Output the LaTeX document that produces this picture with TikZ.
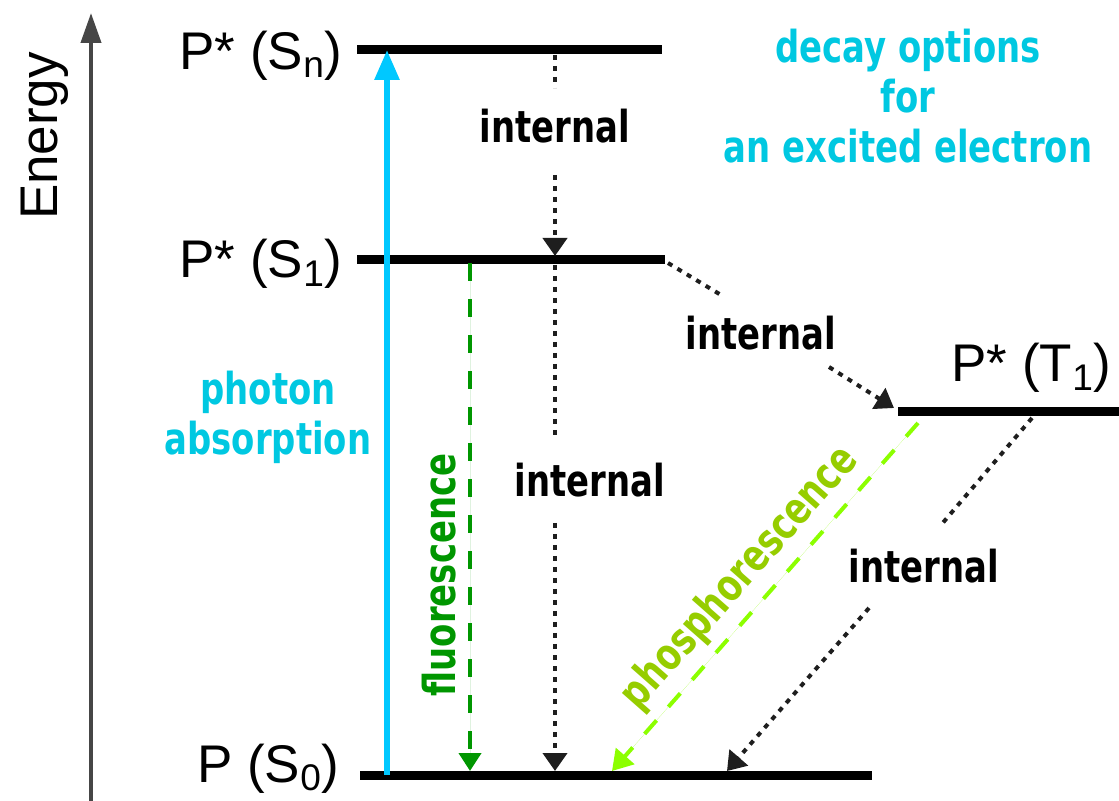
\documentclass[tikz,border=0pt]{standalone}
\usepackage{fontspec}
\setmainfont{Liberation Sans}
\newfontfamily\handfont[FakeStretch=0.77]{DejaVu Sans Bold}
\usetikzlibrary{arrows.meta}
\definecolor{AbsCyan}{RGB}{0,200,255}
\definecolor{TextCyan}{RGB}{0,200,225}
\definecolor{FluorGreen}{RGB}{0,150,0}
\definecolor{PhosLime}{RGB}{140,255,0}
\definecolor{PhosText}{RGB}{150,205,0}
\definecolor{AxisGray}{RGB}{70,70,70}
\definecolor{DotGray}{RGB}{30,30,30}
\tikzset{
  level/.style={draw=black,line width=4.5pt},
  axispath/.style={-{Triangle[length=15pt,width=10pt]},draw=AxisGray,line width=2pt},
  abspath/.style={-{Triangle[length=15pt,width=12pt]},draw=AbsCyan,line width=3pt},
  fluorpath/.style={-{Triangle[length=9pt,width=11pt]},draw=FluorGreen,fill=FluorGreen,line width=2pt,dash pattern=on 9pt off 9pt},
  phospath/.style={-{Triangle[length=10pt,width=12pt]},draw=PhosLime,fill=PhosLime,line width=2pt,dash pattern=on 9pt off 9pt},
  intpath/.style={draw=DotGray,line width=2pt,dash pattern=on 2.5pt off 3pt},
  intarrow/.style={intpath,-{Triangle[length=9pt,width=12pt]}},
  statelabel/.style={inner sep=0pt,font=\fontsize{26.5}{30}\selectfont},
  proclabel/.style={inner sep=0pt,font=\handfont\fontsize{22}{25}\selectfont,align=center}
}
\begin{document}
\begin{tikzpicture}[x=0.5pt,y=-0.5pt]
\useasboundingbox (0,0) rectangle (1119,801);
% energy levels
\coordinate (Sn-l) at (357,50);  \coordinate (Sn-r) at (662,50);
\coordinate (S1-l) at (357,260); \coordinate (S1-r) at (665,260);
\coordinate (S0-l) at (360,775); \coordinate (S0-r) at (872,775);
\coordinate (T1-l) at (898,412); \coordinate (T1-r) at (1119,412);
\coordinate (ax-b) at (91,801);  \coordinate (ax-t) at (91,13);
% ends of the transitions
\coordinate (abs-b) at (387,775); \coordinate (abs-t) at (387,50);
\coordinate (fl-t) at (470,263); \coordinate (fl-b) at (470,771);
\coordinate (i1-a) at (555,55);  \coordinate (i1-b) at (555,88);  \coordinate (i1-c) at (555,175); \coordinate (i1-d) at (555,256);
\coordinate (i2-a) at (555,265); \coordinate (i2-b) at (555,440); \coordinate (i2-c) at (555,523); \coordinate (i2-d) at (555,771);
\coordinate (i3-a) at (668,263); \coordinate (i3-b) at (721,295); \coordinate (i3-c) at (829,367); \coordinate (i3-d) at (894,408);
\coordinate (ph-t) at (918,423); \coordinate (ph-b) at (612,771);
\coordinate (i4-a) at (1032,418); \coordinate (i4-b) at (941,525); \coordinate (i4-c) at (869,608); \coordinate (i4-d) at (727,771);

\draw[axispath](ax-b)--(ax-t);
\draw[level](Sn-l)--(Sn-r);\draw[level](S1-l)--(S1-r);\draw[level](S0-l)--(S0-r);\draw[level](T1-l)--(T1-r);
\draw[abspath](abs-b)--(abs-t);
\draw[fluorpath](fl-t)--(fl-b);
\draw[phospath](ph-t)--(ph-b);
\draw[intpath](i1-a)--(i1-b);\draw[intarrow](i1-c)--(i1-d);
\draw[intpath](i2-a)--(i2-b);\draw[intarrow](i2-c)--(i2-d);
\draw[intpath](i3-a)--(i3-b);\draw[intarrow](i3-c)--(i3-d);
\draw[intpath](i4-a)--(i4-b);\draw[intarrow](i4-c)--(i4-d);

\node[statelabel,rotate=90,anchor=base] (energy) at (57,136) {Energy};
\node[statelabel,anchor=base east] (lab-Sn) at (343,70) {P* (S\textsubscript{n})};
\node[statelabel,anchor=base east] (lab-S1) at (343,278) {P* (S\textsubscript{1})};
\node[statelabel,anchor=base east] (lab-S0) at (340,782) {P (S\textsubscript{0})};
\node[statelabel,anchor=base east] (lab-T1) at (1112,382) {P* (T\textsubscript{1})};

\node[proclabel,anchor=base] (int-1) at (555,143) {internal};
\node[proclabel,anchor=base] (int-2) at (590,497) {internal};
\node[proclabel,anchor=base] (int-3) at (761,350) {internal};
\node[proclabel,anchor=base] (int-4) at (924,582) {internal};
\node[proclabel,anchor=base,text=TextCyan] (absorb) at (268,455) {photon\\absorption};
\node[proclabel,anchor=base,text=TextCyan] (decay) at (908,163) {decay options\\for\\an excited electron};
\node[proclabel,anchor=base,rotate=90,text=FluorGreen] (fluor) at (455,575) {fluorescence};
\node[proclabel,rotate=48.6,text=PhosText] (phos) at (740,578) {phosphorescence};
\end{tikzpicture}
\end{document}
